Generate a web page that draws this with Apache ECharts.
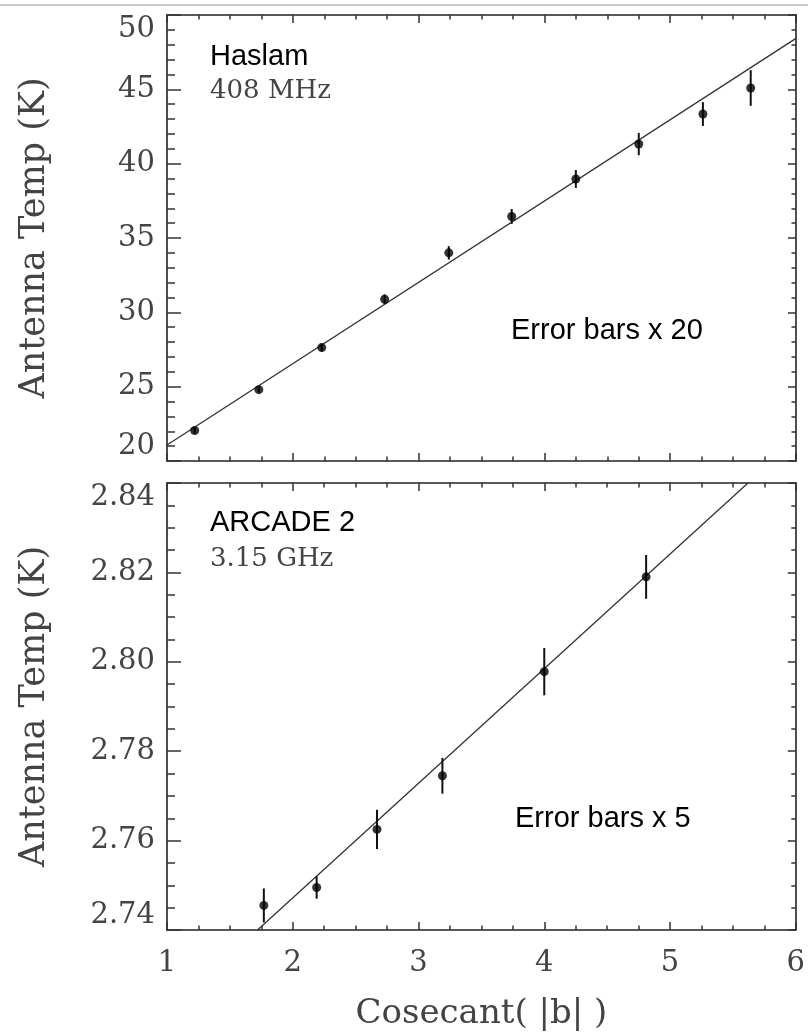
<!DOCTYPE html>
<html><head><meta charset="utf-8">
<script src="https://cdn.jsdelivr.net/npm/echarts@6/dist/echarts.min.js"></script>
<style>html,body{margin:0;padding:0;background:#fff}#c{width:808px;height:1034px}</style>
</head><body><div id="c"></div>
<script>
// ---- Haslam 408 MHz panel ----
const haslamX   = [1.22, 1.73, 2.23, 2.73, 3.24, 3.74, 4.25, 4.75, 5.26, 5.64];
const haslamY   = [22.05, 24.8, 27.63, 30.88, 34.0, 36.45, 38.97, 41.32, 43.34, 45.09];
const haslamErr = [0.2, 0.2, 0.25, 0.33, 0.45, 0.5, 0.6, 0.75, 0.8, 1.2];
const haslamFitX = [1, 6];
const haslamFitY = [21.08, 48.43];
// ---- ARCADE 2 3.15 GHz panel ----
const arcadeX   = [1.77, 2.19, 2.67, 3.19, 4.0, 4.81];
const arcadeY   = [2.7455, 2.7495, 2.7625, 2.7745, 2.7978, 2.819];
const arcadeErr = [0.0038, 0.0025, 0.0044, 0.004, 0.0053, 0.0049];
const arcadeFitX = [1.72, 5.62];
const arcadeFitY = [2.74, 2.84];
// ---- axes ----
const xTicks = {min: 1, max: 6, interval: 1};
const haslamTicks = {min: 20, max: 50, interval: 5};
const arcadeTicks = {min: 2.74, max: 2.84, interval: 0.02};
const yTitle = 'Antenna Temp (K)';
const xTitle = 'Cosecant( |b| )';

const serif = 'DejaVu Serif';
const frame = {show: true, lineStyle: {color: '#222', width: 1.6}};
function tickCfg(len, minorLen, minorSplit) {
  return {
    axisTick: {show: true, inside: true, length: len, lineStyle: {color: '#333', width: 1.5}},
    minorTick: {show: true, splitNumber: minorSplit, length: minorLen, lineStyle: {color: '#333', width: 1.5}}
  };
}
function xAxisCfg(grid, pos, showLabel, name) {
  return Object.assign({
    type: 'value', gridIndex: grid, position: pos,
    min: xTicks.min, max: xTicks.max, interval: xTicks.interval,
    axisLine: frame, splitLine: {show: false},
    axisLabel: {show: showLabel, fontFamily: serif, fontSize: 29, color: '#444', margin: 19},
    name: name || '', nameLocation: 'middle', nameGap: 67,
    nameTextStyle: {fontFamily: serif, fontSize: 34, color: '#444'}
  }, tickCfg(8, 4.5, 4));
}
function yAxisCfg(grid, pos, t, split, fmt, showLabel) {
  const left = pos === 'left';
  return Object.assign({
    type: 'value', gridIndex: grid, position: pos,
    min: t.min, max: t.max, interval: t.interval,
    axisLine: frame, splitLine: {show: false},
    axisLabel: {show: showLabel, fontFamily: serif, fontSize: 29, color: '#444', margin: 12,
      formatter: fmt, verticalAlignMinLabel: 'bottom', verticalAlignMaxLabel: 'top'},
    name: left ? yTitle : '', nameLocation: 'middle', nameGap: 115,
    nameTextStyle: {fontFamily: serif, fontSize: 35, color: '#444'}
  }, left ? tickCfg(14, 8, split) : tickCfg(8, 4.5, split));
}
function pairs(xs, ys) { return xs.map((x, i) => [x, ys[i]]); }
function errData(xs, ys, es) { return xs.map((x, i) => [x, ys[i] - es[i], ys[i] + es[i]]); }
function errRender(params, api) {
  const x = api.value(0);
  const p1 = api.coord([x, api.value(1)]);
  const p2 = api.coord([x, api.value(2)]);
  return {type: 'line', shape: {x1: p1[0], y1: p1[1], x2: p2[0], y2: p2[1]},
          style: {stroke: '#111', lineWidth: 2}};
}
function panelSeries(ax, xs, ys, es, fx, fy) {
  return [
    {type: 'line', xAxisIndex: ax, yAxisIndex: ax, data: pairs(fx, fy), showSymbol: false,
     lineStyle: {color: '#333', width: 1.3}, silent: true, z: 2},
    {type: 'custom', xAxisIndex: ax, yAxisIndex: ax, data: errData(xs, ys, es),
     encode: {x: 0, y: [1, 2]}, renderItem: errRender, silent: true, z: 3},
    {type: 'scatter', xAxisIndex: ax, yAxisIndex: ax, data: pairs(xs, ys), symbol: 'circle',
     symbolSize: 9, itemStyle: {color: '#000'}, silent: true, z: 4}
  ];
}

const chart = echarts.init(document.getElementById('c'), null, {renderer: 'canvas'});
chart.setOption({
  backgroundColor: '#fff',
  animation: false,
  grid: [
    {left: 167, right: 12, top: 15, height: 446},
    {left: 167, right: 12, top: 483, height: 447}
  ],
  xAxis: [
    xAxisCfg(0, 'bottom', false),
    xAxisCfg(0, 'top', false),
    xAxisCfg(1, 'bottom', true, xTitle),
    xAxisCfg(1, 'top', false)
  ],
  yAxis: [
    yAxisCfg(0, 'left', haslamTicks, 5, v => String(v), true),
    yAxisCfg(0, 'right', haslamTicks, 5, null, false),
    yAxisCfg(1, 'left', arcadeTicks, 4, v => v.toFixed(2), true),
    yAxisCfg(1, 'right', arcadeTicks, 4, null, false)
  ],
  series: [].concat(
    panelSeries(0, haslamX, haslamY, haslamErr, haslamFitX, haslamFitY),
    panelSeries(2, arcadeX, arcadeY, arcadeErr, arcadeFitX, arcadeFitY)
  ),
  graphic: [
    {type: 'line', shape: {x1: 0, y1: 5, x2: 808, y2: 5}, style: {stroke: '#c8c8c8', lineWidth: 2}, silent: true},
    {type: 'text', left: 210, top: 42, style: {text: 'Haslam', font: '29px "Liberation Sans"', fill: '#000'}},
    {type: 'text', left: 210, top: 78, style: {text: '408 MHz', font: '26px "DejaVu Serif"', fill: '#444'}},
    {type: 'text', left: 511, top: 316, style: {text: 'Error bars x 20', font: '29px "Liberation Sans"', fill: '#000'}},
    {type: 'text', left: 210, top: 508, style: {text: 'ARCADE 2', font: '29px "Liberation Sans"', fill: '#000'}},
    {type: 'text', left: 210, top: 546, style: {text: '3.15 GHz', font: '26px "DejaVu Serif"', fill: '#444'}},
    {type: 'text', left: 515, top: 804, style: {text: 'Error bars x 5', font: '29px "Liberation Sans"', fill: '#000'}}
  ]
});
</script></body></html>
